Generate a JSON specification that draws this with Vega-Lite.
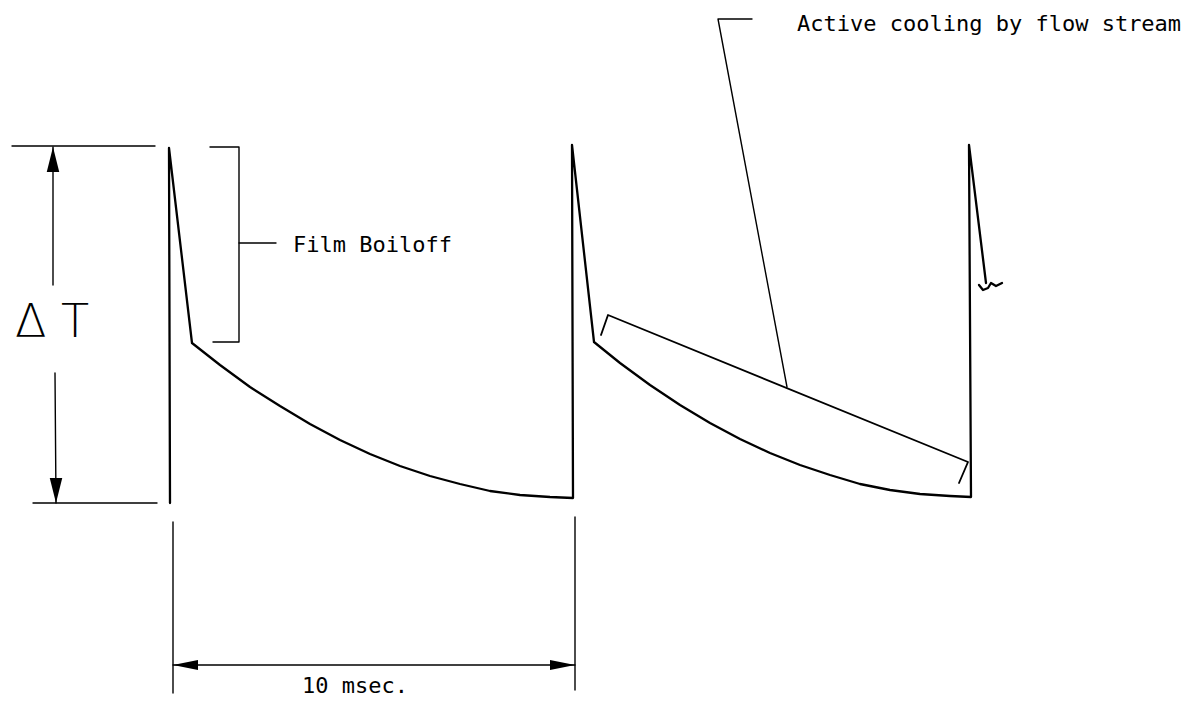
{
  "$schema": "https://vega.github.io/schema/vega-lite/v6.json",
  "width": 1185,
  "height": 706,
  "autosize": {"type": "fit", "contains": "padding"},
  "padding": 0,
  "background": "white",
  "config": {"view": {"stroke": null}},
  "datasets": {
    "lines": [
      {"p": "sig", "k": "signal", "o": 1, "x": 170, "y": 503},
      {"p": "sig", "k": "signal", "o": 2, "x": 169, "y": 148},
      {"p": "sig", "k": "signal", "o": 3, "x": 192, "y": 343},
      {"p": "sig", "k": "signal", "o": 4, "x": 220, "y": 365},
      {"p": "sig", "k": "signal", "o": 5, "x": 250, "y": 387},
      {"p": "sig", "k": "signal", "o": 6, "x": 280, "y": 406},
      {"p": "sig", "k": "signal", "o": 7, "x": 310, "y": 424},
      {"p": "sig", "k": "signal", "o": 8, "x": 340, "y": 440},
      {"p": "sig", "k": "signal", "o": 9, "x": 370, "y": 454},
      {"p": "sig", "k": "signal", "o": 10, "x": 400, "y": 466},
      {"p": "sig", "k": "signal", "o": 11, "x": 430, "y": 476},
      {"p": "sig", "k": "signal", "o": 12, "x": 460, "y": 484},
      {"p": "sig", "k": "signal", "o": 13, "x": 490, "y": 491},
      {"p": "sig", "k": "signal", "o": 14, "x": 520, "y": 495},
      {"p": "sig", "k": "signal", "o": 15, "x": 550, "y": 497},
      {"p": "sig", "k": "signal", "o": 16, "x": 573, "y": 498},
      {"p": "sig", "k": "signal", "o": 17, "x": 572, "y": 145},
      {"p": "sig", "k": "signal", "o": 18, "x": 594, "y": 342},
      {"p": "sig", "k": "signal", "o": 19, "x": 620, "y": 363},
      {"p": "sig", "k": "signal", "o": 20, "x": 650, "y": 385},
      {"p": "sig", "k": "signal", "o": 21, "x": 680, "y": 405},
      {"p": "sig", "k": "signal", "o": 22, "x": 710, "y": 423},
      {"p": "sig", "k": "signal", "o": 23, "x": 740, "y": 439},
      {"p": "sig", "k": "signal", "o": 24, "x": 770, "y": 453},
      {"p": "sig", "k": "signal", "o": 25, "x": 800, "y": 465},
      {"p": "sig", "k": "signal", "o": 26, "x": 830, "y": 475},
      {"p": "sig", "k": "signal", "o": 27, "x": 860, "y": 484},
      {"p": "sig", "k": "signal", "o": 28, "x": 890, "y": 490},
      {"p": "sig", "k": "signal", "o": 29, "x": 920, "y": 494},
      {"p": "sig", "k": "signal", "o": 30, "x": 950, "y": 496},
      {"p": "sig", "k": "signal", "o": 31, "x": 971, "y": 497},
      {"p": "sig", "k": "signal", "o": 32, "x": 969, "y": 145},
      {"p": "sig", "k": "signal", "o": 33, "x": 986, "y": 283},
      {"p": "sq", "k": "signal", "o": 1, "x": 979, "y": 285},
      {"p": "sq", "k": "signal", "o": 2, "x": 983, "y": 290},
      {"p": "sq", "k": "signal", "o": 3, "x": 988, "y": 288},
      {"p": "sq", "k": "signal", "o": 4, "x": 991, "y": 283},
      {"p": "sq", "k": "signal", "o": 5, "x": 996, "y": 286},
      {"p": "sq", "k": "signal", "o": 6, "x": 1002, "y": 283},
      {"p": "ac", "k": "mid", "o": 1, "x": 601, "y": 335},
      {"p": "ac", "k": "mid", "o": 2, "x": 608, "y": 315},
      {"p": "ac", "k": "mid", "o": 3, "x": 968, "y": 462},
      {"p": "ac", "k": "mid", "o": 4, "x": 959, "y": 483},
      {"p": "ld", "k": "thin", "o": 1, "x": 752, "y": 19},
      {"p": "ld", "k": "thin", "o": 2, "x": 718, "y": 19},
      {"p": "ld", "k": "thin", "o": 3, "x": 787, "y": 387},
      {"p": "br", "k": "thin", "o": 1, "x": 210, "y": 147},
      {"p": "br", "k": "thin", "o": 2, "x": 239, "y": 147},
      {"p": "br", "k": "thin", "o": 3, "x": 239, "y": 342},
      {"p": "br", "k": "thin", "o": 4, "x": 213, "y": 342},
      {"p": "bt", "k": "thin", "o": 1, "x": 239, "y": 243},
      {"p": "bt", "k": "thin", "o": 2, "x": 276, "y": 243},
      {"p": "e1", "k": "thin", "o": 1, "x": 12, "y": 146},
      {"p": "e1", "k": "thin", "o": 2, "x": 155, "y": 146},
      {"p": "e2", "k": "thin", "o": 1, "x": 33, "y": 503},
      {"p": "e2", "k": "thin", "o": 2, "x": 157, "y": 503},
      {"p": "a1", "k": "thin", "o": 1, "x": 53, "y": 147},
      {"p": "a1", "k": "thin", "o": 2, "x": 53, "y": 285},
      {"p": "a2", "k": "thin", "o": 1, "x": 55, "y": 373},
      {"p": "a2", "k": "thin", "o": 2, "x": 56, "y": 503},
      {"p": "e3", "k": "thin", "o": 1, "x": 173, "y": 522},
      {"p": "e3", "k": "thin", "o": 2, "x": 173, "y": 693},
      {"p": "e4", "k": "thin", "o": 1, "x": 575, "y": 517},
      {"p": "e4", "k": "thin", "o": 2, "x": 575, "y": 690},
      {"p": "dm", "k": "thin", "o": 1, "x": 173, "y": 665},
      {"p": "dm", "k": "thin", "o": 2, "x": 575, "y": 665}
    ],
    "arrows": [
      {"dir": "up", "x": 53, "y": 147},
      {"dir": "down", "x": 56, "y": 503},
      {"dir": "left", "x": 173, "y": 665},
      {"dir": "right", "x": 575, "y": 665}
    ],
    "labels": [
      {"g": "big", "t": "Δ T", "x": 15, "y": 337},
      {"g": "txt", "t": "Film Boiloff", "x": 293, "y": 252},
      {"g": "txt", "t": "Active cooling by flow stream", "x": 797, "y": 31},
      {"g": "txt", "t": "10 msec.", "x": 302, "y": 693}
    ]
  },
  "encoding": {
    "x": {"field": "x", "type": "quantitative", "scale": {"domain": [0, 1185], "nice": false, "zero": false}, "axis": null},
    "y": {"field": "y", "type": "quantitative", "scale": {"domain": [0, 706], "nice": false, "zero": false, "reverse": true}, "axis": null}
  },
  "layer": [
    {
      "data": {"name": "lines"},
      "mark": {"type": "line", "color": "black", "strokeJoin": "round", "strokeCap": "round"},
      "encoding": {
        "detail": {"field": "p", "type": "nominal"},
        "order": {"field": "o", "type": "quantitative"},
        "strokeWidth": {"field": "k", "type": "ordinal", "scale": {"domain": ["thin", "mid", "signal"], "range": [1.4, 2.3, 2.8]}, "legend": null}
      }
    },
    {
      "data": {"name": "arrows"},
      "mark": {"type": "point", "filled": true, "color": "black", "size": 625, "opacity": 1, "strokeWidth": 0},
      "encoding": {
        "shape": {"field": "dir", "type": "nominal", "scale": {"domain": ["up", "down", "left", "right"], "range": ["M0,0L0.5,2L-0.5,2Z", "M0,0L0.5,-2L-0.5,-2Z", "M0,0L2,0.4L2,-0.4Z", "M0,0L-2,0.4L-2,-0.4Z"]}, "legend": null}
      }
    },
    {
      "data": {"name": "labels"},
      "transform": [{"filter": "datum.g === 'big'"}],
      "mark": {"type": "text", "align": "left", "baseline": "alphabetic", "font": "DejaVu Sans", "fontWeight": 200, "fontSize": 46, "color": "black"},
      "encoding": {"text": {"field": "t"}}
    },
    {
      "data": {"name": "labels"},
      "transform": [{"filter": "datum.g === 'txt'"}],
      "mark": {"type": "text", "align": "left", "baseline": "alphabetic", "font": "DejaVu Sans Mono", "fontSize": 22, "color": "black"},
      "encoding": {"text": {"field": "t"}}
    }
  ]
}
